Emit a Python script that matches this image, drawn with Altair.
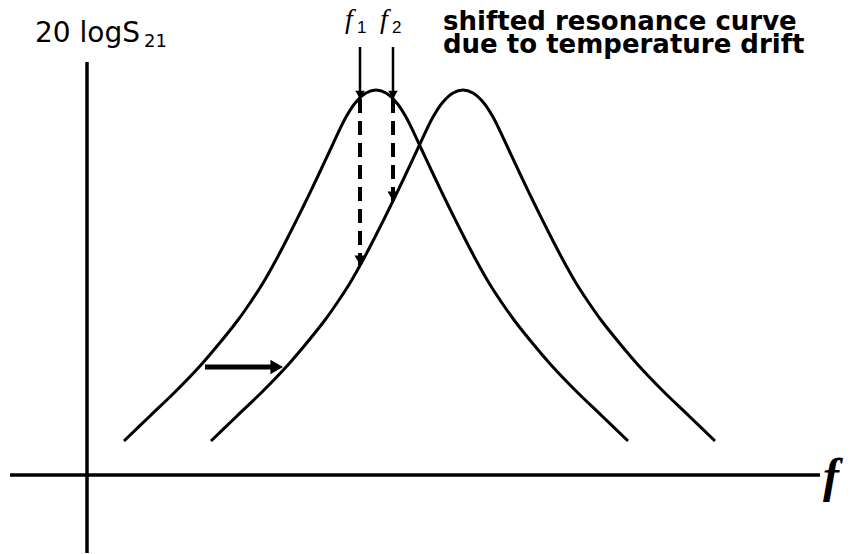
import altair as alt
import pandas as pd

# Resonance curve before the drift: frequency offset (a.u.) and level (a.u.)
f_orig = [37, 63, 89, 113, 131, 151, 163, 176, 189, 201, 217, 230, 245, 259, 269, 279,
          289, 299, 309, 319, 333, 348, 361, 377, 389, 402, 415, 427, 447, 465, 489,
          515, 541]
lvl_orig = [34, 59, 84, 109, 130, 155, 172, 192, 215, 238, 270, 297, 329, 358, 373, 382,
            385, 382, 373, 358, 329, 297, 270, 238, 215, 192, 172, 155, 130, 109, 84,
            59, 34]

# Resonance curve shifted by the temperature drift
f_shift = [124, 150, 176, 200, 218, 238, 250, 263, 276, 288, 304, 317, 332, 346, 356, 366,
           376, 386, 396, 406, 420, 435, 448, 464, 476, 489, 502, 514, 534, 552, 576,
           602, 628]
lvl_shift = [34, 59, 84, 109, 130, 155, 172, 192, 215, 238, 270, 297, 329, 358, 373, 382,
             385, 382, 373, 358, 329, 297, 270, 238, 215, 192, 172, 155, 130, 109, 84,
             59, 34]

# Probe frequencies f1, f2 and the levels they read on each curve
probe_names = ["f1", "f2"]
probe_f = [273, 306]
probe_top = [428, 428]
probe_on_orig = [376, 376]
probe_on_shift = [210, 274]

# Horizontal drift arrow
drift_level = 108
drift_from = 118
drift_to = 196

# Axis extents
axis_f_min, axis_f_max = -77, 733
axis_l_min, axis_l_max = -78, 413

xs = alt.Scale(domain=[-87, 767], nice=False, zero=False)
ys = alt.Scale(domain=[-79, 475], nice=False, zero=False)

curves = pd.DataFrame(
    {"f": f_orig + f_shift,
     "level": lvl_orig + lvl_shift,
     "curve": ["original"] * len(f_orig) + ["shifted"] * len(f_shift),
     "i": list(range(len(f_orig))) + list(range(len(f_shift)))}
)

curve_layer = alt.Chart(curves).mark_line(
    color="black", strokeWidth=3, interpolate="catmull-rom"
).encode(
    x=alt.X("f:Q", scale=xs, axis=None),
    y=alt.Y("level:Q", scale=ys, axis=None),
    detail="curve:N",
    order="i:Q",
)

# Coordinate axes
axes = pd.DataFrame({
    "x1": [axis_f_min, 0], "x2": [axis_f_max, 0],
    "y1": [0, axis_l_min], "y2": [0, axis_l_max],
})
axis_layer = alt.Chart(axes).mark_rule(color="black", strokeWidth=3.5).encode(
    x=alt.X("x1:Q", scale=xs, axis=None), x2="x2:Q",
    y=alt.Y("y1:Q", scale=ys, axis=None), y2="y2:Q",
)

probes = pd.DataFrame({
    "name": probe_names, "f": probe_f, "top": probe_top,
    "orig": probe_on_orig, "shift": probe_on_shift,
})

solid_layer = alt.Chart(probes).mark_rule(color="black", strokeWidth=2.5).encode(
    x=alt.X("f:Q", scale=xs, axis=None),
    y=alt.Y("top:Q", scale=ys, axis=None), y2="orig:Q",
)
dash_layer = alt.Chart(probes).mark_rule(
    color="black", strokeWidth=4, strokeDash=[14, 8]
).encode(
    x=alt.X("f:Q", scale=xs, axis=None),
    y=alt.Y("orig:Q", scale=ys, axis=None), y2="shift:Q",
)

# Arrowheads: built-in triangles, offset so the tip sits on the target value
head_orig = alt.Chart(probes).mark_point(
    shape="triangle-down", filled=True, color="black", size=90, opacity=1,
    strokeWidth=0, yOffset=-4.1,
).encode(x=alt.X("f:Q", scale=xs, axis=None), y=alt.Y("orig:Q", scale=ys, axis=None))
head_shift = alt.Chart(probes).mark_point(
    shape="triangle-down", filled=True, color="black", size=120, opacity=1,
    strokeWidth=0, yOffset=-4.7,
).encode(x=alt.X("f:Q", scale=xs, axis=None), y=alt.Y("shift:Q", scale=ys, axis=None))

drift = pd.DataFrame({"a": [drift_from], "b": [drift_to - 10], "tip": [drift_to], "lvl": [drift_level]})
drift_line = alt.Chart(drift).mark_rule(color="black", strokeWidth=5).encode(
    x=alt.X("a:Q", scale=xs, axis=None), x2="b:Q",
    y=alt.Y("lvl:Q", scale=ys, axis=None),
)
drift_head = alt.Chart(drift).mark_point(
    shape="triangle-right", filled=True, color="black", size=210, opacity=1,
    strokeWidth=0, xOffset=-6.3,
).encode(x=alt.X("tip:Q", scale=xs, axis=None), y=alt.Y("lvl:Q", scale=ys, axis=None))


def label(text, fx, lvl, font, size, weight="normal", style="normal"):
    df = pd.DataFrame({"t": [text], "x": [fx], "y": [lvl]})
    return alt.Chart(df).mark_text(
        align="left", baseline="alphabetic", font=font, fontSize=size,
        fontWeight=weight, fontStyle=style, color="black",
    ).encode(
        x=alt.X("x:Q", scale=xs, axis=None),
        y=alt.Y("y:Q", scale=ys, axis=None),
        text="t:N",
    )


sans = "DejaVu Sans"
serif = "Liberation Serif"

texts = [
    label("20 logS", -52, 433, sans, 28),
    label("21", 57, 428, sans, 18),
    label("f", 258, 447, serif, 28, style="italic"),
    label("1", 270, 442, "Liberation Sans", 17),
    label("f", 293, 447, serif, 28, style="italic"),
    label("2", 305, 442, "Liberation Sans", 17),
    label("shifted resonance curve", 356, 445, sans, 26, weight="bold"),
    label("due to temperature drift", 356, 422, sans, 26, weight="bold"),
    label("f", 736, -17, serif, 48, weight="bold", style="italic"),
]

chart = alt.layer(
    axis_layer, curve_layer, solid_layer, dash_layer, head_orig, head_shift,
    drift_line, drift_head, *texts
).properties(
    width=854, height=554, padding=0, autosize="none", background="white"
).configure_view(stroke=None)

chart.save("out.html", embed_options={"renderer": "svg", "actions": False})
